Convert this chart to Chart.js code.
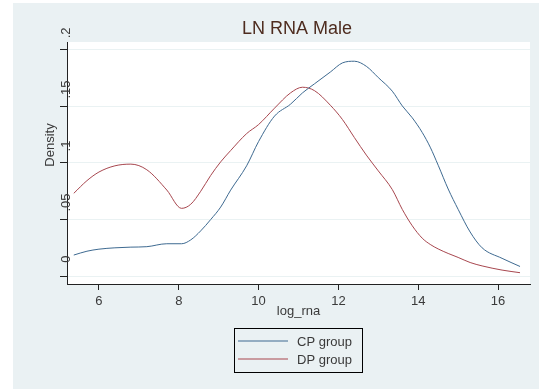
<!DOCTYPE html>
<html>
<head>
<meta charset="utf-8">
<title>LN RNA Male</title>
<script src="https://cdn.jsdelivr.net/npm/chart.js@4.4.0/dist/chart.umd.min.js"></script>
<style>
  html, body { margin: 0; padding: 0; background: #fff; }
  canvas { display: block; }
</style>
</head>
<body>
<canvas id="densityChart" width="539" height="389"></canvas>
<script>
// kernel density of log_rna, males, by group
const logRna = [5.37, 5.7, 6.0, 6.4, 6.8, 7.2, 7.7, 8.07, 8.3, 8.55, 8.8, 9.05, 9.3, 9.7, 10.0, 10.4, 10.8, 11.1,
                11.4, 11.8, 12.1, 12.4, 12.7, 13.0, 13.35, 13.6, 13.85, 14.1, 14.3, 14.5, 14.75, 15.0, 15.3, 15.6, 16.1, 16.55];
const cpDensity = [0.0186, 0.022, 0.0238, 0.025, 0.0256, 0.026, 0.0286, 0.0286, 0.032, 0.040, 0.050, 0.061, 0.076, 0.0975, 0.119, 0.1415, 0.152, 0.162,
                   0.170, 0.1805, 0.1885, 0.190, 0.1855, 0.1755, 0.1635, 0.1505, 0.140, 0.127, 0.114, 0.098, 0.077, 0.059, 0.039, 0.025, 0.0157, 0.0085];
const dpDensity = [0.0732, 0.0844, 0.092, 0.0975, 0.099, 0.094, 0.0761, 0.0599, 0.0635, 0.075, 0.089, 0.101, 0.111, 0.126, 0.134, 0.1485, 0.162, 0.167,
                   0.164, 0.151, 0.1385, 0.1225, 0.107, 0.093, 0.0765, 0.059, 0.0445, 0.0335, 0.028, 0.024, 0.020, 0.0165, 0.012, 0.009, 0.0053, 0.003];
const seriesNames = ['CP group', 'DP group'];
const xTicks = [6, 8, 10, 12, 14, 16];
const yTicks = [0, 0.05, 0.1, 0.15, 0.2];
const yTickLabels = ['0', '.05', '.1', '.15', '.2'];

const FONT = '"Liberation Sans", Arial, sans-serif';
const TEXT = '#3a3a3a';
const GRID = '#eaf2f3';
const CP_COLOR = '#3e6a91';
const DP_COLOR = '#a8474f';

const toPoints = ys => logRna.map((x, i) => ({ x: x, y: ys[i] }));

// stata-style frame: tinted outer panel, white plot region, text and legend drawn by hand
const stataFrame = {
  id: 'stataFrame',
  beforeDraw(chart) {
    const { ctx, chartArea: a } = chart;
    ctx.save();
    ctx.fillStyle = '#eaf1f3';
    ctx.fillRect(13, 3, chart.width - 13, chart.height - 3);
    ctx.fillStyle = '#ffffff';
    ctx.fillRect(a.left, a.top, a.right - a.left, a.bottom - a.top);
    ctx.restore();
  },
  afterDraw(chart) {
    const { ctx, chartArea: a } = chart;
    const xs = chart.scales.x, ys = chart.scales.y;
    ctx.save();

    // title
    ctx.fillStyle = '#4e2c1f';
    ctx.font = '18px ' + FONT;
    ctx.textAlign = 'center';
    ctx.textBaseline = 'alphabetic';
    ctx.fillText('LN RNA Male', 297, 34);

    // x tick labels and title
    ctx.fillStyle = TEXT;
    ctx.font = '13px ' + FONT;
    xTicks.forEach(v => ctx.fillText(String(v), xs.getPixelForValue(v), 305));
    ctx.fillText('log_rna', (a.left + a.right) / 2, 315);

    // y tick labels, rotated
    yTicks.forEach((v, i) => {
      ctx.save();
      ctx.translate(66, ys.getPixelForValue(v) - 17);
      ctx.rotate(-Math.PI / 2);
      ctx.textBaseline = 'middle';
      ctx.fillText(yTickLabels[i], 0, 0);
      ctx.restore();
    });
    ctx.save();
    ctx.translate(50, (a.top + a.bottom) / 2 - 18);
    ctx.rotate(-Math.PI / 2);
    ctx.textBaseline = 'middle';
    ctx.fillText('Density', 0, 0);
    ctx.restore();

    // legend box
    ctx.strokeStyle = '#000';
    ctx.lineWidth = 1;
    ctx.strokeRect(234.5, 328.5, 128, 44);
    ctx.textAlign = 'left';
    const keys = [[CP_COLOR, 341], [DP_COLOR, 359]];
    keys.forEach(([c, y], i) => {
      ctx.strokeStyle = c;
      ctx.lineWidth = 1.2;
      ctx.beginPath();
      ctx.moveTo(238, y);
      ctx.lineTo(288, y);
      ctx.stroke();
      ctx.fillStyle = TEXT;
      ctx.fillText(seriesNames[i], 297, y + 5);
    });
    ctx.restore();
  }
};

new Chart(document.getElementById('densityChart'), {
  type: 'line',
  data: {
    datasets: [
      { label: seriesNames[0], data: toPoints(cpDensity), borderColor: CP_COLOR, borderWidth: 1,
        pointRadius: 0, cubicInterpolationMode: 'monotone', fill: false },
      { label: seriesNames[1], data: toPoints(dpDensity), borderColor: DP_COLOR, borderWidth: 1,
        pointRadius: 0, cubicInterpolationMode: 'monotone', fill: false }
    ]
  },
  options: {
    responsive: false,
    animation: false,
    devicePixelRatio: 1,
    layout: { padding: { left: 60, top: 42, right: 9, bottom: 99 } },
    plugins: { legend: { display: false }, title: { display: false }, tooltip: { enabled: false } },
    scales: {
      x: {
        type: 'linear',
        min: 5.2,
        max: 16.8,
        afterBuildTicks: s => { s.ticks = xTicks.map(v => ({ value: v })); },
        ticks: { display: false },
        grid: { drawOnChartArea: false, drawTicks: true, tickLength: 6, tickColor: '#222' },
        border: { display: true, color: '#222', width: 1 }
      },
      y: {
        type: 'linear',
        min: -0.007,
        max: 0.207,
        afterBuildTicks: s => { s.ticks = yTicks.map(v => ({ value: v })); },
        ticks: { display: false },
        grid: { color: GRID, lineWidth: 1, drawTicks: true, tickLength: 7, tickColor: '#222' },
        border: { display: true, color: '#222', width: 1 }
      }
    }
  },
  plugins: [stataFrame]
});
</script>
</body>
</html>
